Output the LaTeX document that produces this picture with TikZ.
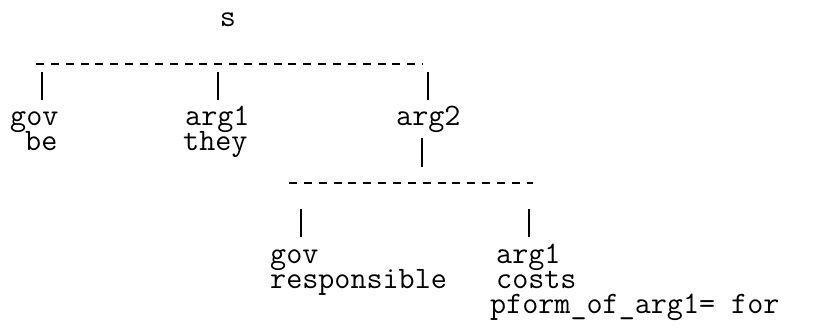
\documentclass[tikz,border=0pt]{standalone}
\usepackage{fontspec}
\begin{document}
\begin{tikzpicture}[x=1pt,y=1pt,
  lbl/.style={font=\ttfamily\fontsize{31.2}{31.2}\selectfont, inner sep=0pt, anchor=base west},
  hline/.style={line width=1.3pt, dash pattern=on 8pt off 6.85pt},
  vline/.style={line width=1.3pt}]
\useasboundingbox[fill=white] (0,0) rectangle (813,-335);
% top level
\node[lbl, anchor=base] (s) at (228,-26) {s};
\coordinate (d1l) at (36,-64);
\coordinate (d1r) at (423,-64);
\draw[hline] (d1l) -- (d1r);
\coordinate (b1t) at (42,-72);  \coordinate (b1b) at (42,-100);
\coordinate (b2t) at (218,-72); \coordinate (b2b) at (218,-100);
\coordinate (b3t) at (428,-72); \coordinate (b3b) at (428,-100);
\draw[vline] (b1t) -- (b1b);
\draw[vline] (b2t) -- (b2b);
\draw[vline] (b3t) -- (b3b);
\node[lbl] (gov1) at (10,-125) {gov};
\node[lbl] (arg1a) at (185,-125) {arg1};
\node[lbl] (arg2) at (396,-125) {arg2};
\node[lbl] (be) at (25,-150) {be};
\node[lbl] (they) at (183,-150) {they};
% second level
\coordinate (b4t) at (422,-138); \coordinate (b4b) at (422,-167);
\draw[vline] (b4t) -- (b4b);
\coordinate (d2l) at (289,-183);
\coordinate (d2r) at (533,-183);
\draw[hline] (d2l) -- (d2r);
\coordinate (b5t) at (301,-209); \coordinate (b5b) at (301,-237);
\coordinate (b6t) at (529,-209); \coordinate (b6b) at (529,-237);
\draw[vline] (b5t) -- (b5b);
\draw[vline] (b6t) -- (b6b);
\node[lbl] (gov2) at (270,-263) {gov};
\node[lbl] (arg1b) at (496,-263) {arg1};
\node[lbl] (resp) at (270,-288) {responsible};
\node[lbl] (costs) at (496,-288) {costs};
\node[lbl] (pform) at (490,-313) {pform\_of\_arg1= for};
\end{tikzpicture}
\end{document}
